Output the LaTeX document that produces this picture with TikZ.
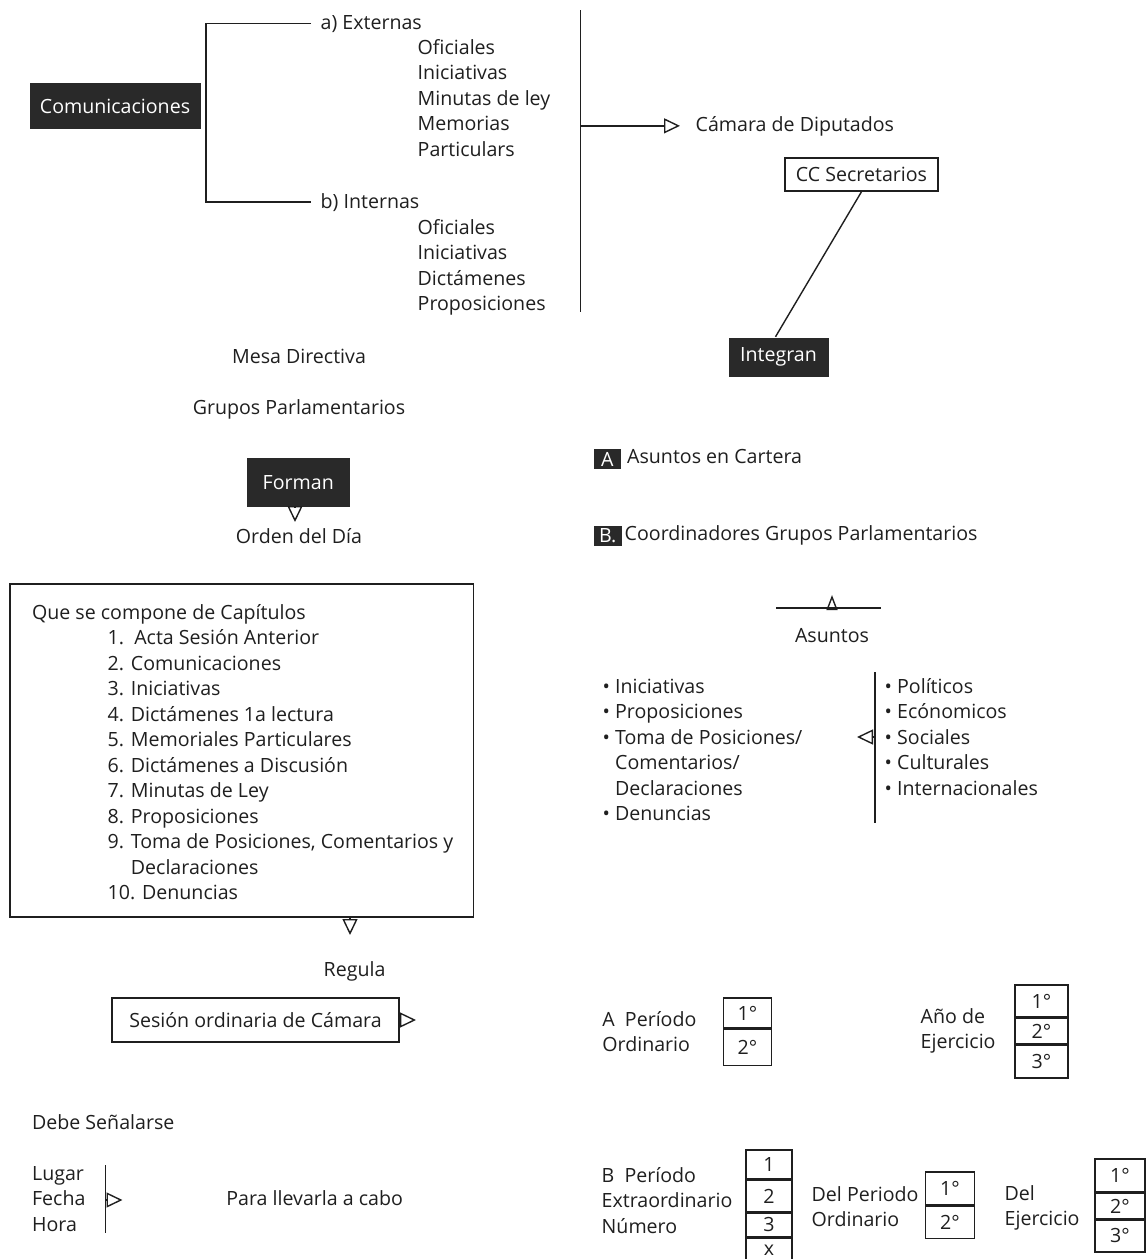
\documentclass[tikz,border=0pt]{standalone}
\usepackage{fontspec}
\setmainfont{Open Sans}
\usetikzlibrary{arrows.meta,positioning}

\colorlet{ink}{black!88}
\colorlet{boxfill}{black!84}

\tikzset{
  txt/.style={anchor=base west, inner sep=0pt, align=left},
  ctr/.style={anchor=base, inner sep=0pt},
  darkbox/.style={fill=boxfill, text=white!88, inner sep=0pt},
  plainbox/.style={draw=ink, inner sep=0pt},
  cell/.style={draw=ink, inner sep=0pt, minimum width=#1},
  cell/.default=24pt,
  tip/.style={-{Triangle[open,length=8pt,width=7.5pt]}},
}

\begin{document}
\begin{tikzpicture}[x=0.5pt, y=-0.5pt, line width=0.7pt, color=ink,
    every node/.style={font=\fontsize{9.8}{12.75}\selectfont}]
    \fill[white] (0,0) rectangle (1146,1259);
    \useasboundingbox (0,0) rectangle (1146,1259);

    \node[darkbox, minimum width=85.5pt, minimum height=23pt] (com) at (115,106) {Comunicaciones};
    \node[txt] (ext) at (320,29) {a) Externas};
    \node[txt] (int) at (320,208) {b) Internas};
    \coordinate (brk) at (206,0);
    \draw ([xshift=-4.5pt]ext.west) -- (ext.west -| brk) -- (int.west -| brk) -- ([xshift=-4.5pt]int.west);
    \node[txt] (extlist) at (417,156) {Oficiales\\Iniciativas\\Minutas de ley\\Memorias\\Particulars};
    \node[txt] (intlist) at (417,310.5) {Oficiales\\Iniciativas\\Dictámenes\\Proposiciones};

    \coordinate (vtop) at (580.5,10);
    \coordinate (vbot) at (580.5,312);
    \draw (vtop) -- (vbot);
    \node[txt] (camara) at (695,131) {Cámara de Diputados};
    \draw[tip] (vtop |- camara.west) -- ([xshift=-7.5pt]camara.west);

    \node[plainbox, minimum width=76.5pt, minimum height=16.5pt] (cc) at (861.5,174.5) {CC Secretarios};
    \node[darkbox, minimum width=50pt, minimum height=19.5pt] (integ) at (778.5,357) {Integran};
    \draw (cc.south) -- ([xshift=-1.5pt]integ.north);

    \node[ctr] (mesa) at (299,363.5) {Mesa Directiva};
    \node[ctr] (grupos) at (299,414) {Grupos Parlamentarios};
    \node[darkbox, minimum width=51.3pt, minimum height=24.5pt] (forman) at (298.3,482.5) {Forman};
    \node[ctr] (orden) at (299,543) {Orden del Día};
    \coordinate (ordtip) at (295,522);
    \draw[tip] (forman.south -| ordtip) -- (ordtip);

    \node[darkbox, minimum width=13.7pt, minimum height=10pt] (sqa) at (607.3,459) {A};
    \node[txt] (cartera) at (626.5,463) {Asuntos en Cartera};
    \node[darkbox, minimum width=14pt, minimum height=10pt] (sqb) at (607.7,536) {B.};
    \node[txt] (coord) at (624,540) {Coordinadores Grupos Parlamentarios};

    \coordinate (asl) at (776,608);
    \coordinate (asr) at (881,608);
    \node[ctr] (asuntos) at (832,642) {Asuntos};
    \draw (asl) -- (asr);
    \draw[-{Triangle[open,length=7.5pt,width=5.5pt]}] (asuntos |- asl) -- ++(0,-13);

    \node[txt] (tipos) at (602,820.5) {\textbullet\ Iniciativas\\\textbullet\ Proposiciones\\\textbullet\ Toma de Posiciones/\\\phantom{\textbullet\ }Comentarios/\\\phantom{\textbullet\ }Declaraciones\\\textbullet\ Denuncias};
    \node[txt] (temas) at (884,795) {\textbullet\ Políticos\\\textbullet\ Ecónomicos\\\textbullet\ Sociales\\\textbullet\ Culturales\\\textbullet\ Internacionales};
    \coordinate (vt) at (875,672);
    \coordinate (vb) at (875,823);
    \draw (vt) -- (vb);
    \coordinate (soctip) at (857,737);
    \draw[tip] (vt |- soctip) -- (soctip);

    \node[plainbox, minimum width=231.75pt, minimum height=166.5pt] (cap) at (241.75,750.5) {};
    \node[txt] (compone) at (31.4,619) {Que se compone de Capítulos};
    \node[txt] (caplist) at (107,899.7) {1.\ \ Acta Sesión Anterior\\2. Comunicaciones\\3. Iniciativas\\4. Dictámenes 1a lectura\\5. Memoriales Particulares\\6. Dictámenes a Discusión\\7. Minutas de Ley\\8. Proposiciones\\9. Toma de Posiciones, Comentarios y\\\phantom{9. }Declaraciones\\10. Denuncias};
    \coordinate (regtip) at (350,935);
    \draw[tip] (cap.south -| regtip) -- (regtip);
    \node[ctr] (regula) at (354.6,976) {Regula};

    \node[plainbox, minimum width=143.5pt, minimum height=22pt] (sesion) at (255.5,1020) {Sesión ordinaria de Cámara};
    \coordinate (sestip) at (416,1020);
    \draw[tip] (sesion.east) -- (sestip);

    \node[txt] (debe) at (31.4,1129) {Debe Señalarse};
    \node[txt] (lfh) at (31.4,1231) {Lugar\\Fecha\\Hora};
    \coordinate (lt) at (105.4,1165);
    \coordinate (lb) at (105.4,1233);
    \draw (lt) -- (lb);
    \coordinate (lfhtip) at (122.5,1200);
    \draw[tip] (lt |- lfhtip) -- (lfhtip);
    \node[txt] (para) at (225.7,1205) {Para llevarla a cabo};

    \node[txt] (pera) at (601.7,1051.5) {A\ \ Período\\Ordinario};
    \node[cell=23.8pt, minimum height=15pt] (pa1) at (747.5,1013) {1°};
    \node[cell=23.8pt, minimum height=18pt, below=0pt of pa1] (pa2) {2°};

    \node[txt] (anio) at (920,1048.5) {Año de\\Ejercicio};
    \node[cell=26.5pt, minimum height=16pt] (ej1) at (1041.5,1001) {1°};
    \node[cell=26.5pt, minimum height=12.5pt, below=0pt of ej1] (ej2) {2°};
    \node[cell=26.5pt, minimum height=16.5pt, below=0pt of ej2] (ej3) {3°};

    \node[txt] (perb) at (601,1233) {B\ \ Período\\Extraordinario\\Número};
    \node[cell=23pt, minimum height=14.5pt] (ex1) at (769,1164.5) {1};
    \node[cell=23pt, minimum height=15.5pt, below=0pt of ex1] (ex2) {2};
    \node[cell=23pt, minimum height=12pt, below=0pt of ex2] (ex3) {3};
    \node[cell=23pt, minimum height=12.3pt, below=0pt of ex3] (ex4) {x};

    \node[txt] (delper) at (811,1226.5) {Del Periodo\\Ordinario};
    \node[cell=24.5pt, minimum height=16.5pt] (dp1) at (950,1188.5) {1°};
    \node[cell=24.5pt, minimum height=16pt, below=0pt of dp1] (dp2) {2°};

    \node[txt] (delej) at (1004,1225.5) {Del\\Ejercicio};
    \node[cell=25pt, minimum height=16.5pt] (de1) at (1120,1175.5) {1°};
    \node[cell=25pt, minimum height=12.5pt, below=0pt of de1] (de2) {2°};
    \node[cell=25pt, minimum height=16pt, below=0pt of de2] (de3) {3°};
\end{tikzpicture}
\end{document}
